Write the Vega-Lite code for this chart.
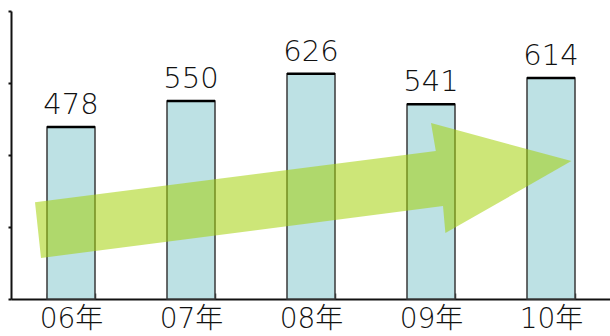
{
  "$schema": "https://vega.github.io/schema/vega-lite/v6.json",
  "width": 600,
  "height": 288,
  "autosize": {"type": "none"},
  "padding": {"left": 11, "top": 11, "right": 0, "bottom": 37},
  "background": "white",
  "config": {
    "view": {"stroke": null},
    "font": "DejaVu Sans, Noto Sans CJK JP",
    "axis": {"grid": false, "title": null}
  },
  "datasets": {
    "sales": [
      {"year": "06年", "value": 478},
      {"year": "07年", "value": 550},
      {"year": "08年", "value": 626},
      {"year": "09年", "value": 541},
      {"year": "10年", "value": 614}
    ],
    "arrow": [
      {"pt": 1, "pos": -0.30, "level": 269},
      {"pt": 2, "pos": 3.04, "level": 411},
      {"pt": 3, "pos": 3.00, "level": 489},
      {"pt": 4, "pos": 4.17, "level": 383},
      {"pt": 5, "pos": 3.12, "level": 183},
      {"pt": 6, "pos": 3.10, "level": 258},
      {"pt": 7, "pos": -0.25, "level": 114}
    ]
  },
  "layer": [
    {
      "data": {"name": "sales"},
      "layer": [
        {
          "mark": {"type": "bar", "fill": "#bde1e4", "stroke": "#3a3a3a", "strokeWidth": 1.5},
          "encoding": {
            "x": {
              "field": "year", "type": "nominal", "sort": null,
              "scale": {"paddingInner": 0.6, "paddingOuter": 0.3},
              "axis": {
                "labelAngle": 0, "labelFontSize": 28, "labelFontWeight": 200, "labelColor": "#111",
                "labelPadding": 12, "labelBaseline": "top",
                "domainColor": "#111", "domainWidth": 2,
                "tickBand": "extent", "tickSize": -6, "tickColor": "#333", "tickWidth": 1.5
              }
            },
            "y": {
              "field": "value", "type": "quantitative",
              "scale": {"domain": [0, 800], "nice": false},
              "axis": {
                "values": [0, 200, 400, 600, 800], "labels": false,
                "domainColor": "#111", "domainWidth": 2,
                "tickColor": "#111", "tickSize": 3, "tickWidth": 2
              }
            }
          }
        },
        {
          "mark": {"type": "tick", "color": "#000", "thickness": 2.5, "size": 48, "opacity": 1},
          "encoding": {
            "x": {"field": "year", "type": "nominal", "sort": null},
            "y": {"field": "value", "type": "quantitative"}
          }
        },
        {
          "mark": {"type": "text", "fontSize": 29, "fontWeight": 200, "baseline": "alphabetic", "dy": -13, "color": "#111"},
          "encoding": {
            "x": {"field": "year", "type": "nominal", "sort": null},
            "y": {"field": "value", "type": "quantitative"},
            "text": {"field": "value", "type": "quantitative"}
          }
        }
      ]
    },
    {
      "data": {"name": "arrow"},
      "mark": {
        "type": "line", "interpolate": "linear-closed",
        "fill": "#a4d20a", "fillOpacity": 0.55, "strokeWidth": 0
      },
      "encoding": {
        "x": {"field": "pos", "type": "quantitative", "scale": {"domain": [-0.5, 4.5], "nice": false, "zero": false}, "axis": null},
        "y": {"field": "level", "type": "quantitative"},
        "order": {"field": "pt"}
      }
    }
  ],
  "resolve": {"scale": {"x": "independent"}}
}
